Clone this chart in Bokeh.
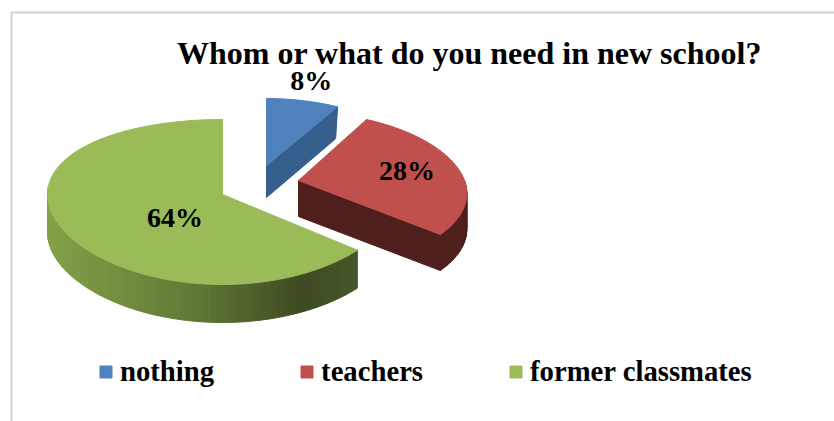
import math

from bokeh.core.properties import value
from bokeh.embed import file_html
from bokeh.models import Label, Legend, LegendItem, Range1d
from bokeh.plotting import figure
from bokeh.resources import INLINE

# Survey results
categories = ["nothing", "teachers", "former classmates"]
shares = [8, 28, 64]
title_text = "Whom or what do you need in new school?"

# Colours per slice: top face, dark side face
top_colors = ["#4f81bd", "#c0504d", "#9bbb59"]
side_colors = ["#365f8e", "#4e1f1c", "#5f7735"]
# Horizontal shading of the green rim: (pixel x, rgb)
rim_stops = [(50, (131, 160, 72)), (200, (95, 119, 53)), (300, (62, 74, 34)), (357, (70, 86, 42))]

SERIF = "Liberation Serif"
WIDTH, HEIGHT = 834, 421

# Exploded pie layout for each slice: apex position and tilted-disc projection
slice_layout = [
    dict(ax=266, ay=165, rx=170, kx=0.15, ry=67, qy=0, depth=32, rim_end=None, lab_r=1.31, lab_dy=0, foot=2),
    dict(ax=298, ay=180, rx=166, kx=0.17, ry=78.4, qy=10, depth=36, rim_end=90, lab_r=0.68, lab_dy=0, foot=0),
    dict(ax=222, ay=194, rx=175, kx=0.0, ry=82.5, qy=7.5, depth=38, rim_end=275, lab_r=0.30, lab_dy=12, foot=0),
]


def project(lay, angle_deg, r=1.0):
    """Map a clockwise-from-top angle and radius on the disc to plot coordinates."""
    a = math.radians(angle_deg)
    u, v = r * math.sin(a), -r * math.cos(a)
    return lay["ax"] + lay["rx"] * u * (1 + lay["kx"] * v), lay["ay"] + lay["ry"] * v + lay["qy"] * v * v


def arc(lay, start, end, step=1.0):
    n = max(2, int(abs(end - start) / step) + 1)
    return [project(lay, start + (end - start) * i / (n - 1)) for i in range(n)]


def rim_color(x):
    for (x0, c0), (x1, c1) in zip(rim_stops, rim_stops[1:]):
        if x <= x1:
            t = max(0.0, (x - x0) / (x1 - x0))
            return "#%02x%02x%02x" % tuple(round(a + (b - a) * t) for a, b in zip(c0, c1))
    return "#%02x%02x%02x" % rim_stops[-1][1]


p = figure(
    width=WIDTH, height=HEIGHT, output_backend="svg", toolbar_location=None,
    x_range=Range1d(0, WIDTH), y_range=Range1d(HEIGHT, 0),
    min_border=0, outline_line_color=None, background_fill_color="white",
)
p.axis.visible = False
p.grid.visible = False

# Frame of the chart area: left and top edges only
p.line([11, 11, WIDTH], [HEIGHT, 12, 12], line_color="#d2d2d2", line_width=2)

total = sum(shares)
edges = [0.0]
for s in shares:
    edges.append(edges[-1] + 360.0 * s / total)

top_renderers = []
for i, share in enumerate(shares):
    lay = slice_layout[i]
    start, end = edges[i], edges[i + 1]
    d = lay["depth"]
    apex = (lay["ax"], lay["ay"])

    # Cut face along the clockwise edge (visible on the two right-hand slices)
    if i < 2:
        ex, ey = project(lay, end)
        p.patch([apex[0], ex, ex - lay["foot"], apex[0]], [apex[1], ey, ey + d, apex[1] + d],
                fill_color=side_colors[i], line_color=side_colors[i], line_width=1)

    # Outer rim seen from the front
    if lay["rim_end"] is not None:
        pts = arc(lay, end if i == 1 else start, lay["rim_end"], 2.0)
        xs, ys, cols = [], [], []
        for (x0, y0), (x1, y1) in zip(pts, pts[1:]):
            xs.append([x0, x1, x1, x0])
            ys.append([y0, y1, y1 + d, y0 + d])
            cols.append(rim_color((x0 + x1) / 2) if i == 2 else side_colors[i])
        p.patches(xs, ys, fill_color=cols, line_color=cols, line_width=1)

    # Top face
    outline = [apex] + arc(lay, start, end)
    r = p.patch([q[0] for q in outline], [q[1] for q in outline],
                fill_color=top_colors[i], line_color=top_colors[i], line_width=1)
    top_renderers.append(r)

# Percentage labels placed along each slice's middle direction
for i, share in enumerate(shares):
    lay = slice_layout[i]
    lx, ly = project(lay, (edges[i] + edges[i + 1]) / 2, lay["lab_r"])
    p.text([lx], [ly + lay["lab_dy"]], text=[f"{share}%"], text_align="center", text_baseline="middle",
           text_font=value(SERIF), text_font_style="bold", text_font_size="28px", text_color="black")

p.add_layout(Label(x=469, y=52, text=title_text, text_align="center", text_baseline="middle",
                   text_font=SERIF, text_font_style="bold", text_font_size="32px", text_color="black"))

legend = Legend(
    items=[LegendItem(label=c, renderers=[r]) for c, r in zip(categories, top_renderers)],
    orientation="horizontal", location=(98, 33), padding=0, margin=0, spacing=85,
    glyph_width=15, glyph_height=15, label_standoff=7, border_line_color=None,
    background_fill_alpha=0, label_text_font=SERIF, label_text_font_style="bold",
    label_text_font_size="28.7px", label_text_color="black",
)
p.add_layout(legend, "center")

open("out.html", "w").write(file_html(p, INLINE))
